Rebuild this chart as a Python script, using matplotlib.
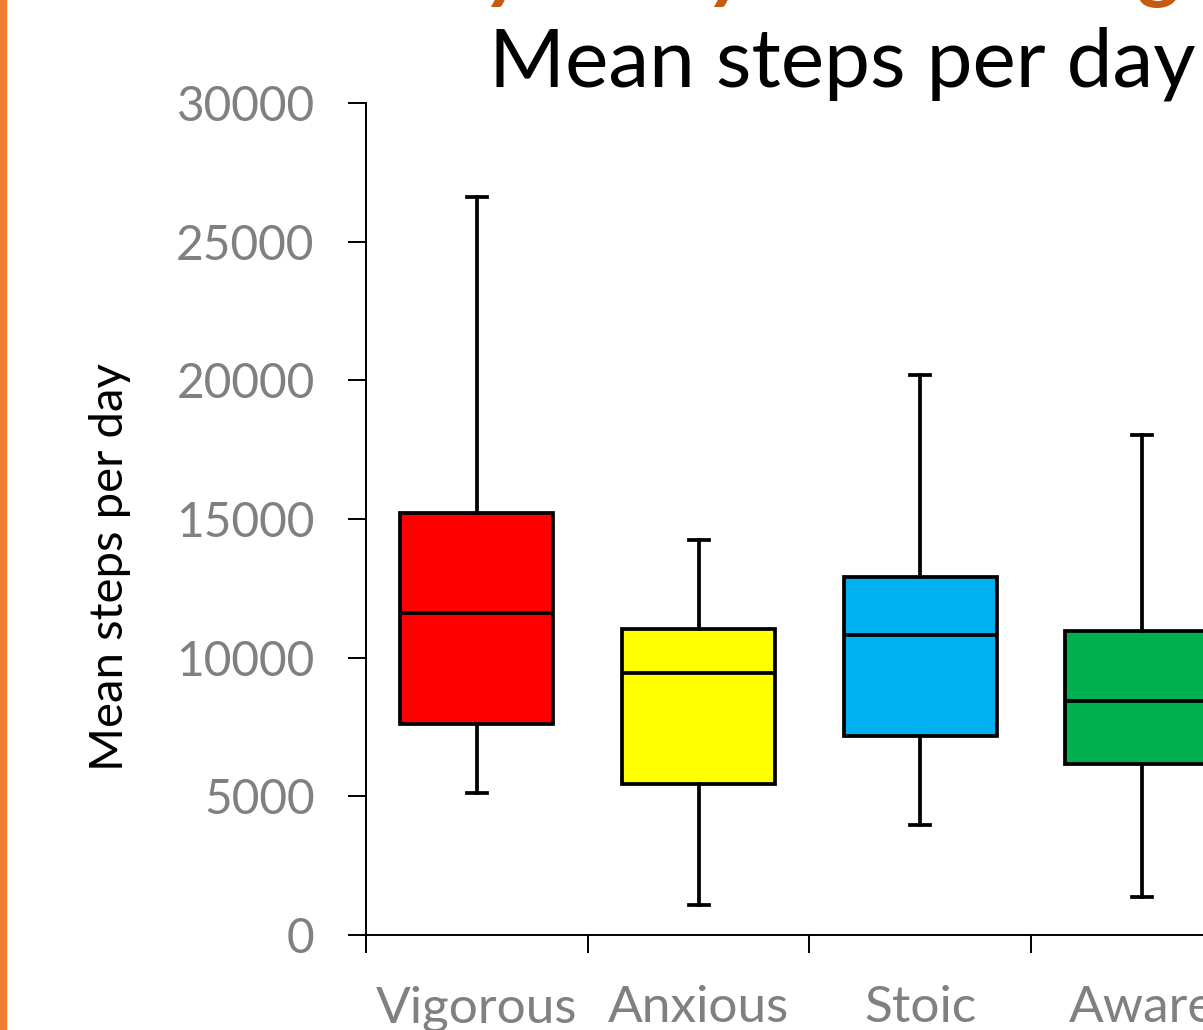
import matplotlib
matplotlib.use("Agg")
import matplotlib.pyplot as plt
from matplotlib.patches import Rectangle

plt.rcParams['font.family'] = ['Lato', 'DejaVu Sans']

segments = ['Vigorous', 'Anxious', 'Stoic', 'Aware']
whislo = [5120, 1080, 3970, 1370]
q1 = [7610, 5445, 7175, 6165]
med = [11610, 9450, 10820, 8440]
q3 = [15220, 11035, 12910, 10965]
whishi = [26610, 14245, 20195, 18030]
colors = ['#FF0000', '#FFFF00', '#00B0F0', '#00B050']

W, H = 1203, 1030
fig = plt.figure(figsize=(W / 100, H / 100), dpi=100)

# orange accent bar on the left edge
fig.patches.append(Rectangle((0, 0), 6 / W, 1, transform=fig.transFigure,
                             color='#ED7D31', zorder=5))

# heading above, mostly cut off by the top edge
for ch, xp in [('y', 508), ('y', 731), ('g', 1163)]:
    fig.text(xp / W, 1 + 8 / H, ch, color='#C55A11', fontsize=62,
             fontweight='bold', style='italic', ha='center', va='baseline')

step = 221.7
left, bottom, top = 366, 935, 103
n_slots = 5
ax = fig.add_axes([left / W, 1 - bottom / H, n_slots * step / W, (bottom - top) / H])

stats = []
for i, name in enumerate(segments):
    stats.append(dict(label=name, whislo=whislo[i], q1=q1[i], med=med[i],
                      q3=q3[i], whishi=whishi[i], fliers=[]))

lw = 2.7
bp = ax.bxp(stats, positions=range(len(segments)), widths=0.69,
            patch_artist=True, showfliers=False,
            boxprops=dict(linewidth=lw, edgecolor='black'),
            medianprops=dict(color='black', linewidth=lw),
            whiskerprops=dict(color='black', linewidth=lw),
            capprops=dict(color='black', linewidth=lw),
            capwidths=0.09)
for patch, c in zip(bp['boxes'], colors):
    patch.set_facecolor(c)

ax.set_xlim(-0.5, n_slots - 0.5)
ax.set_ylim(0, 30000)
ax.set_yticks(range(0, 30001, 5000))
ax.set_xticks([i - 0.5 for i in range(n_slots + 1)])
ax.set_xticklabels([])
ax.set_xticks(range(len(segments)), minor=True)
ax.set_xticklabels(segments, minor=True)
ax.tick_params(axis='x', which='major', length=13, width=1.4, direction='out')
ax.tick_params(axis='x', which='minor', length=0, pad=36, labelsize=37,
               labelcolor='#808080')
ax.tick_params(axis='y', length=13, width=1.4, pad=24, labelsize=34.5,
               labelcolor='#808080')
for s in ['top', 'right']:
    ax.spines[s].set_visible(False)
for s in ['left', 'bottom']:
    ax.spines[s].set_linewidth(1.4)

ax.set_ylabel('Mean steps per day', fontsize=34, color='black')
ax.yaxis.set_label_coords((131 - left) / (n_slots * step), (bottom - 567) / (bottom - top))
fig.text(842 / W, 1 - 64 / H, 'Mean steps per day', fontsize=59,
         ha='center', va='center', color='black')

fig.savefig('out.png', dpi=100)
